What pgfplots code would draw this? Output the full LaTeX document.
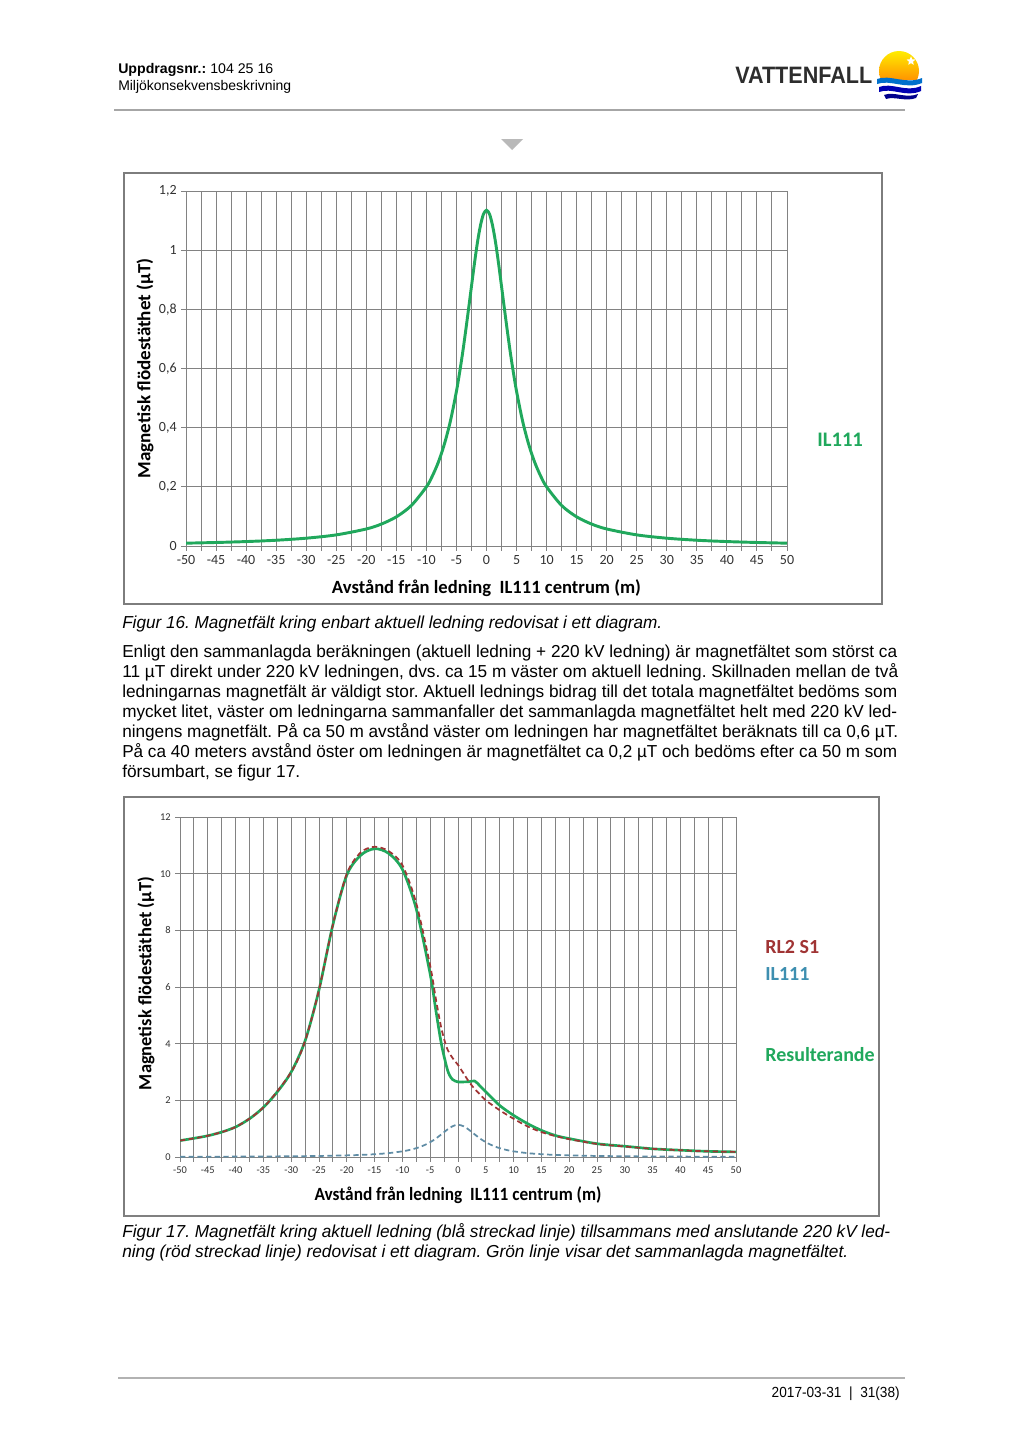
\documentclass[border=0pt]{standalone}
\usepackage{pgfplots}
\pgfplotsset{compat=1.18}
\usepackage{pgfplotstable}
\usepackage{graphicx}
\usepackage{fontspec}
\setmainfont{Liberation Sans}
\newfontfamily\calfont{Carlito}
\usetikzlibrary{shapes.geometric}
\frenchspacing
\newdimen\pxu \pxu=0.75pt
\newcommand\fitw[2]{\resizebox{#1\pxu}{\height}{#2}}
\definecolor{gridc}{RGB}{130,130,130}
\definecolor{framec}{RGB}{125,125,125}
\definecolor{grn}{RGB}{32,168,92}
\definecolor{rd}{RGB}{160,52,52}
\definecolor{bl}{RGB}{95,140,165}
\definecolor{bltxt}{RGB}{62,143,176}
\definecolor{tickc}{RGB}{50,50,50}
\definecolor{vattc}{RGB}{45,45,45}

\pgfplotstableread{
x y
-50 0.0096
-45 0.0119
-40 0.0150
-35 0.0195
-30 0.0264
-25 0.0376
-20 0.0576
-17.5 0.0741
-15 0.0986
-12.5 0.137
-10 0.200
-9 0.237
-8 0.284
-7 0.345
-6 0.423
-5 0.523
-4.5 0.583
-4 0.649
-3.5 0.722
-3 0.799
-2.5 0.878
-2 0.956
-1.5 1.027
-1 1.084
-0.5 1.122
0 1.135
0.5 1.122
1 1.084
1.5 1.027
2 0.956
2.5 0.878
3 0.799
3.5 0.722
4 0.649
4.5 0.583
5 0.523
6 0.423
7 0.345
8 0.284
9 0.237
10 0.200
12.5 0.137
15 0.0986
17.5 0.0741
20 0.0576
25 0.0376
30 0.0264
35 0.0195
40 0.0150
45 0.0119
50 0.0096
}\ilone

\pgfplotstableread{
x y
-50 0.58
-47.5 0.66
-45 0.75
-42.5 0.88
-40 1.06
-37.5 1.35
-35 1.75
-32.5 2.3
-30 3.0
-27.5 4.1
-25 5.9
-22.5 8.2
-20 9.95
-17.5 10.65
-15 10.88
-12.5 10.72
-10 10.15
-7.5 8.75
-5 6.45
-4 5.2
-3 4.0
-2 3.15
-1.5 2.88
-1 2.74
-0.5 2.68
0 2.65
1 2.65
2 2.66
3 2.68
4 2.5
5 2.3
7.5 1.82
10 1.47
12.5 1.18
15 0.94
17.5 0.76
20 0.65
25 0.47
30 0.38
35 0.29
40 0.24
45 0.20
50 0.18
}\reslt

\pgfplotstableread{
x y
-50 0.58
-45 0.75
-40 1.06
-35 1.75
-30 3.0
-27.5 4.1
-25 5.9
-22.5 8.2
-20 10.0
-17.5 10.75
-15 10.95
-12.5 10.8
-10 10.3
-7.5 8.95
-5 6.75
-4 5.6
-3 4.55
-2 3.85
-1 3.5
0 3.25
1 2.95
2 2.65
3 2.4
4 2.2
5 2.0
7.5 1.65
10 1.35
12.5 1.08
15 0.88
17.5 0.74
20 0.63
25 0.46
30 0.37
35 0.29
40 0.24
45 0.20
50 0.18
}\rltwo

\pgfplotsset{mygrid/.style={
  scale only axis, xmin=-50, xmax=50,
  xtick={-50,-45,...,50},
  xticklabels={-50,-45,-40,-35,-30,-25,-20,-15,-10,-5,0,5,10,15,20,25,30,35,40,45,50},
  minor x tick num=1,
  grid=both,
  major grid style={gridc, line width=0.75pt},
  minor grid style={gridc, line width=0.75pt},
  axis line style={gridc, line width=0.75pt},
  tick style={gridc, line width=0.75pt},
  tick align=outside, major tick length=3.5pt, minor tick length=3.5pt,
  xtick pos=bottom, ytick pos=left,
  ticklabel style={text=tickc},
  label style={font=\calfont\bfseries\fontsize{14}{16}\selectfont, text=black},
}}

\begin{document}
\begin{tikzpicture}[x=0.75pt, y=-0.75pt, font=\fontsize{13}{15}\selectfont]
\fill[white] (0,0) rectangle (1024,1449);

% header
\node[anchor=base west, inner sep=0] at (118,73) {\fitw{155}{\fontsize{10.5}{12}\selectfont\textbf{Uppdragsnr.:} 104 25 16}};
\node[anchor=base west, inner sep=0] at (118,90) {\fitw{173}{\fontsize{10.5}{12}\selectfont Miljökonsekvensbeskrivning}};
\node[anchor=base west, inner sep=0, text=vattc] at (735,83) {\fitw{137}{\fontsize{17.8}{20}\selectfont\bfseries VATTENFALL}};
% logo
\begin{scope}
\clip (874,48) rectangle (926,79);
\shade[top color=yellow!85!orange, bottom color=orange!90!red] (899,71) circle (15pt);
\end{scope}
\node[star, star points=5, star point ratio=2.2, fill=white, inner sep=0, minimum size=7pt] at (911,61) {};
\fill[blue!45!cyan!80!black] (877,79) .. controls (890,74) and (906,85) .. (922,78) -- (922,83) .. controls (906,90) and (890,79) .. (877,84) -- cycle;
\fill[blue!70!black] (879,87) .. controls (892,82) and (906,93) .. (921,86) -- (921,91) .. controls (906,98) and (892,87) .. (879,92) -- cycle;
\fill[blue!55!black] (884,95) .. controls (894,91) and (906,99) .. (918,94) -- (916,98) .. controls (906,102) and (894,96) .. (886,99) -- cycle;
\draw[gray!70, line width=1.2pt] (114,110) -- (905,110);
\fill[gray!55] (501,139) -- (523,139) -- (512,150) -- cycle;

% frames
\draw[framec, line width=0.8pt] (124,173) rectangle (882,604);
\draw[framec, line width=0.8pt] (124,797) rectangle (879,1216);
\draw[gray, line width=1.4pt] (124,1216) -- (879,1216);

% chart 1
\begin{axis}[mygrid, at={(139.5pt,-409.5pt)}, anchor=south west,
  width=450.75pt, height=266.25pt,
  ymin=0, ymax=1.2, ytick={0,0.2,0.4,0.6,0.8,1,1.2},
  yticklabels={0,{0,2},{0,4},{0,6},{0,8},1,{1,2}},
  ticklabel style={font=\calfont\fontsize{10.5}{12}\selectfont},
  xlabel={\fitw{309}{Avstånd från ledning\ \ IL111 centrum (m)}},
  ylabel={\fitw{220}{Magnetisk flödestäthet (µT)}},
  xlabel style={at={(axis description cs:0.5,-0.118)}, anchor=center},
  ylabel style={at={(axis description cs:-0.068,0.5)}, anchor=center},
]
\addplot[grn, line width=2.2pt, smooth] table {\ilone};
\end{axis}
\node[anchor=base west, inner sep=0, text=grn] at (817,446) {\calfont\bfseries\fontsize{15.5}{17}\selectfont IL111};

% text
\node[anchor=base west, inner sep=0] at (122,628) {\fitw{540}{\itshape Figur 16. Magnetfält kring enbart aktuell ledning redovisat i ett diagram.}};
\node[anchor=base west, inner sep=0] at (122,657) {\fitw{775}{Enligt den sammanlagda beräkningen (aktuell ledning + 220 kV ledning) är magnetfältet som störst ca}};
\node[anchor=base west, inner sep=0] at (122,677) {\fitw{776}{11 µT direkt under 220 kV ledningen, dvs. ca 15 m väster om aktuell ledning. Skillnaden mellan de två}};
\node[anchor=base west, inner sep=0] at (122,697) {\fitw{775}{ledningarnas magnetfält är väldigt stor. Aktuell lednings bidrag till det totala magnetfältet bedöms som}};
\node[anchor=base west, inner sep=0] at (122,717) {\fitw{775}{mycket litet, väster om ledningarna sammanfaller det sammanlagda magnetfältet helt med 220 kV led-}};
\node[anchor=base west, inner sep=0] at (122,737) {\fitw{776}{ningens magnetfält. På ca 50 m avstånd väster om ledningen har magnetfältet beräknats till ca 0,6 µT.}};
\node[anchor=base west, inner sep=0] at (122,757) {\fitw{775}{På ca 40 meters avstånd öster om ledningen är magnetfältet ca 0,2 µT och bedöms efter ca 50 m som}};
\node[anchor=base west, inner sep=0] at (122,777) {\fitw{178}{försumbart, se figur 17.}};

% chart 2
\begin{axis}[mygrid, at={(135pt,-867.75pt)}, anchor=south west,
  width=417pt, height=255pt,
  ymin=0, ymax=12, ytick={0,2,4,6,8,10,12},
  yticklabels={0,2,4,6,8,10,12},
  ticklabel style={font=\calfont\fontsize{7.8}{9}\selectfont},
  xlabel={\fitw{287}{Avstånd från ledning\ \ IL111 centrum (m)}},
  ylabel={\fitw{213}{Magnetisk flödestäthet (µT)}},
  xlabel style={at={(axis description cs:0.5,-0.112)}, anchor=center},
  ylabel style={at={(axis description cs:-0.061,0.51)}, anchor=center},
]
\addplot[grn, line width=2pt, smooth] table {\reslt};
\addplot[rd, line width=1.3pt, dash pattern=on 4pt off 2.5pt, smooth] table {\rltwo};
\addplot[bl, line width=1.3pt, dash pattern=on 4pt off 2.5pt, smooth] table {\ilone};
\end{axis}
\node[anchor=base west, inner sep=0, text=rd] at (765,953) {\calfont\bfseries\fontsize{15}{17}\selectfont RL2 S1};
\node[anchor=base west, inner sep=0, text=bltxt] at (765,980) {\calfont\bfseries\fontsize{15}{17}\selectfont IL111};
\node[anchor=base west, inner sep=0, text=grn] at (765,1061) {\calfont\bfseries\fontsize{15}{17}\selectfont Resulterande};

\node[anchor=base west, inner sep=0] at (122,1237) {\fitw{768}{\itshape Figur 17. Magnetfält kring aktuell ledning (blå streckad linje) tillsammans med anslutande 220 kV led-}};
\node[anchor=base west, inner sep=0] at (122,1257) {\fitw{726}{\itshape ning (röd streckad linje) redovisat i ett diagram. Grön linje visar det sammanlagda magnetfältet.}};

% footer
\draw[gray!60, line width=1pt] (118,1378) -- (905,1378);
\node[anchor=base east, inner sep=0] at (900,1397) {\fitw{128}{\fontsize{11}{13}\selectfont 2017-03-31\ \ |\ \ 31(38)}};
\end{tikzpicture}
\end{document}
